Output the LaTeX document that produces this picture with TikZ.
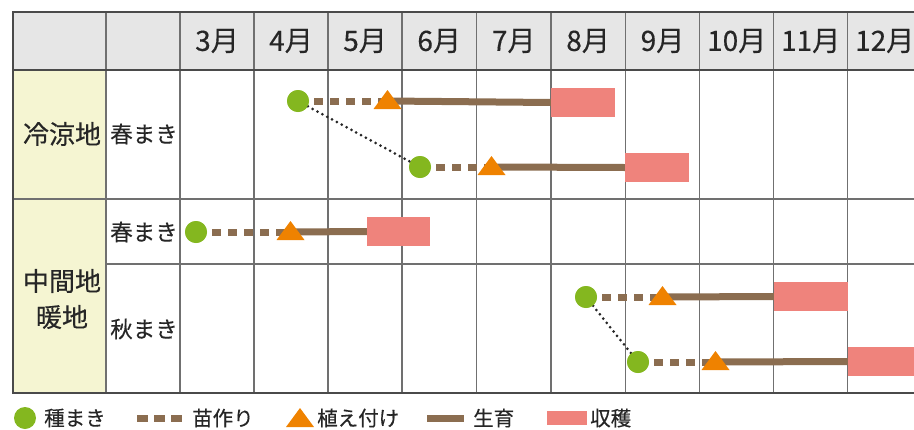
\documentclass[tikz,border=0pt]{standalone}
\usepackage{fontspec}
\setmainfont[FakeBold=0.35]{Noto Sans CJK JP}
\usetikzlibrary{calc}
\definecolor{cgreen}{HTML}{84B71F}
\definecolor{cbrown}{HTML}{8B6D50}
\definecolor{corange}{HTML}{EF8200}
\definecolor{cpink}{HTML}{EF837C}
\definecolor{cgrid}{HTML}{707070}
\definecolor{cdark}{HTML}{4A4A4A}
\definecolor{chead}{HTML}{E6E6E6}
\definecolor{cyel}{HTML}{F5F5D2}
\newcommand\plantmark[1]{\fill[corange,shift={(#1)}] (0,-11)--(14,8)--(-14,8)--cycle;}
\begin{document}
\begin{tikzpicture}[x=1pt,y=-1pt,
  seed/.style={circle,fill=cgreen,minimum size=22pt,inner sep=0pt},
  harvest/.style={rectangle,fill=cpink,inner sep=0pt,minimum height=29pt},
  nursery/.style={draw=cbrown,line width=7pt,dash pattern=on 9pt off 7pt},
  growline/.style={draw=cbrown,line width=7pt},
  link/.style={draw=black!85,line width=3pt,line cap=round,dash pattern=on 0pt off 5.5pt},
  gridline/.style={draw=cgrid,line width=1.2pt},
  boldline/.style={draw=cdark,line width=2pt},
  head/.style={font=\fontsize{28}{32}\selectfont,text=black!85,inner sep=0pt},
  lab/.style={font=\fontsize{26}{30}\selectfont,text=black!85,inner sep=0pt},
  kind/.style={font=\fontsize{22.5}{27}\selectfont,text=black!85,inner sep=0pt},
  leg/.style={font=\fontsize{20.5}{25}\selectfont,text=black!85,inner sep=0pt,anchor=west}]
\useasboundingbox (0,0) rectangle (914,429);
% fills
\fill[chead] (13,12) rectangle (914,70);
\fill[cyel] (13,70) rectangle (106,393);
% grid
\foreach \x in {106,180,254,328,402,476.5,551,625.3,699.7,773.7,847.7}
  \draw[gridline] (\x,12) -- (\x,393);
\draw[gridline] (13,199) -- (914,199);
\draw[gridline] (106,264) -- (914,264);
\draw[boldline] (13,12) -- (914,12);
\draw[boldline] (13,70) -- (914,70);
\draw[boldline] (13,393) -- (914,393);
\draw[boldline] (13,11) -- (13,394);
% header
\foreach \m/\x in {3/217,4/291,5/365,6/439.2,7/513.7,8/588.1,9/662.5,10/736.7,11/810.7,12/884.7}
  \node[head] (m\m) at (\x,41) {\m 月};
% row labels
\node[lab] (r1) at (62,134) {冷涼地};
\node[lab] (r2) at (62,281) {中間地};
\node[lab] (r3) at (62,317) {暖地};
\node[kind] (k1) at (144,134) {春まき};
\node[kind] (k2) at (144,232) {春まき};
\node[kind] (k3) at (144,329) {秋まき};
% markers positions
\node[seed] (s1) at (298,101) {};
\coordinate (t1) at (387.5,101);
\node[harvest,minimum width=64pt] (h1) at (583,102.5) {};
\node[seed] (s2) at (420,167) {};
\coordinate (t2) at (491.5,167);
\node[harvest,minimum width=64pt] (h2) at (657,167.5) {};
\node[seed] (s3) at (196,232) {};
\coordinate (t3) at (290.5,232);
\node[harvest,minimum width=63pt] (h3) at (398.5,231.5) {};
\node[seed] (s4) at (586,297) {};
\coordinate (t4) at (662.5,297);
\node[harvest,minimum width=74pt] (h4) at (811,296.5) {};
\node[seed] (s5) at (638,362) {};
\coordinate (t5) at (715.5,362);
\node[harvest,minimum width=66pt] (h5) at (881,361.5) {};
% connectors
\foreach \i in {1,...,5} {
  \draw[nursery] (s\i.center) -- (t\i);
  \draw[growline] (t\i) -- (h\i.west);
}
\draw[link] (s1) -- (s2);
\draw[link] (s4) -- (s5);
\foreach \i in {1,...,5} {
  \node[seed] at (s\i) {};
  \plantmark{t\i}
}
% legend
\node[seed] (ls) at (25,418) {};
\node[leg] (l1) at (44,418) {種まき};
\coordinate (ld1) at (137,418);
\coordinate (ld2) at (183,418);
\draw[draw=cbrown,line width=7pt,dash pattern=on 11pt off 6pt] (ld1) -- (ld2);
\node[leg] (l2) at (192,418) {苗作り};
\coordinate (lt) at (300,419);
\plantmark{lt}
\node[leg] (l3) at (317,418) {植え付け};
\coordinate (lg1) at (427,418);
\coordinate (lg2) at (464,418);
\draw[growline] (lg1) -- (lg2);
\node[leg] (l4) at (473,418) {生育};
\node[harvest,minimum width=40pt,minimum height=14pt] (lh) at (567,418) {};
\node[leg] (l5) at (590,418) {収穫};
\end{tikzpicture}
\end{document}
